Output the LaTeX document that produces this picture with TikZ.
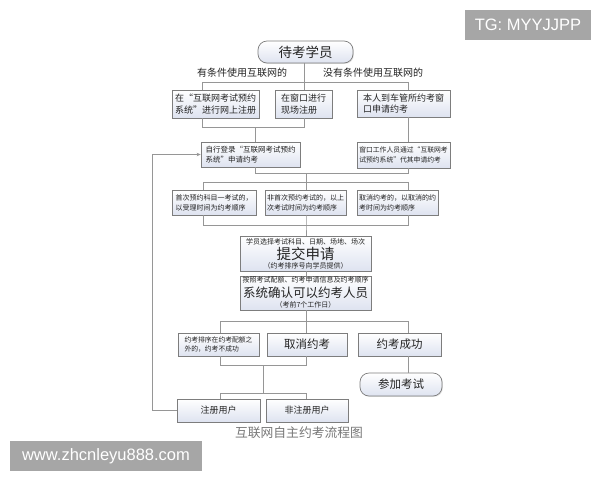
\documentclass[tikz,border=0pt]{standalone}
\usepackage{fontspec}
\setmainfont{Noto Sans CJK SC}
\newfontfamily\wmfont{Liberation Sans}
\usetikzlibrary{shadows,arrows.meta}
\definecolor{lncol}{RGB}{150,150,150}
\definecolor{bdcol}{RGB}{125,125,125}
\definecolor{boxbot}{RGB}{222,227,240}
\definecolor{txt}{RGB}{35,35,35}
\definecolor{capcol}{RGB}{120,120,120}
\definecolor{wmgray}{RGB}{166,166,166}
\newcommand{\fs}[2]{\fontsize{#1pt}{#2pt}\selectfont}
\tikzset{
  ln/.style={draw=lncol, line width=0.9pt},
  bx/.style={draw=bdcol, line width=0.7pt, top color=white, bottom color=boxbot,
    inner sep=0pt, align=left, text=txt,
    drop shadow={shadow xshift=0.9pt, shadow yshift=-0.9pt, opacity=0.22}},
  rbx/.style={bx, rounded corners=9pt, align=center},
  sz/.style 2 args={minimum width=#1pt, minimum height=#2pt},
  lbl/.style={inner sep=0pt, text=txt},
  wm/.style={fill=wmgray, text=white, inner sep=0pt, font=\wmfont\fs{16.5}{18}}
}
\begin{document}
\begin{tikzpicture}[x=1pt,y=-1pt]
\useasboundingbox (0,0) rectangle (600,480);
\fill[white] (0,0) rectangle (600,480);

% nodes
\node[rbx, sz={95}{22}, font=\fs{13.5}{15}] (top) at (305.5,52) {待考学员};
\node[lbl, font=\fs{10}{12}] (l1) at (242,73) {有条件使用互联网的};
\node[lbl, font=\fs{10}{12}] (l2) at (373,73) {没有条件使用互联网的};

\node[bx, sz={87}{28}, font=\fs{9}{11.5}] (A) at (215.5,104) {在“互联网考试预约\\系统”进行网上注册};
\node[bx, sz={57}{28}, font=\fs{9}{11.5}] (B) at (303.5,104) {在窗口进行\\现场注册};
\node[bx, sz={93}{27}, font=\fs{9}{11.5}] (C) at (403.5,103.5) {本人到车管所约考窗\\口申请约考};

\node[bx, sz={99}{25}, font=\fs{7.5}{10}] (D) at (250.5,154.5) {自行登录“互联网考试预约\\系统”申请约考};
\node[bx, sz={93}{26}, font=\fs{6.8}{9.5}] (E) at (403.5,155) {窗口工作人员通过“互联网考\\试预约系统”代其申请约考};

\node[bx, sz={84}{25}, font=\fs{7}{10}] (F) at (214,202.5) {首次预约科目一考试的，\\以受理时间为约考顺序};
\node[bx, sz={81}{25}, font=\fs{7}{10}] (G) at (305.5,202.5) {非首次预约考试的，以上\\次考试时间为约考顺序};
\node[bx, sz={81}{25}, font=\fs{7}{10}] (H) at (397.5,202.5) {取消约考的，以取消的约\\考时间为约考顺序};

\node[bx, sz={131}{35}] (I) at (305.5,253.5) {};
\node[lbl, font=\fs{7}{8}] (I1) at (305.5,241.5) {学员选择考试科目、日期、场地、场次};
\node[lbl, font=\fs{14.5}{16}] (I2) at (305.5,254) {提交申请};
\node[lbl, font=\fs{7}{8}] (I3) at (305.5,265.5) {（约考排序号向学员提供）};

\node[bx, sz={131}{34}] (J) at (305.5,293) {};
\node[lbl, font=\fs{7}{8}] (J1) at (305.5,280) {按照考试配额、约考申请信息及约考顺序};
\node[lbl, font=\fs{12.5}{14}] (J2) at (305.5,293) {系统确认可以约考人员};
\node[lbl, font=\fs{7}{8}] (J3) at (305.5,305) {（考前7个工作日）};

\node[bx, sz={81}{23}, font=\fs{6.8}{9.5}] (K) at (218.5,344.5) {约考排序在约考配额之\\外的，约考不成功};
\node[bx, sz={80}{23}, align=center, font=\fs{11.5}{13}] (L) at (307,344.5) {取消约考};
\node[bx, sz={83}{23}, align=center, font=\fs{11.5}{13}] (M) at (399.5,344.5) {约考成功};
\node[rbx, sz={82}{23}, font=\fs{11.5}{13}] (P) at (401,384.5) {参加考试};

\node[bx, sz={83}{23}, align=center, font=\fs{9}{11}] (N) at (218.5,410.5) {注册用户};
\node[bx, sz={82}{23}, align=center, font=\fs{9}{11}] (O) at (307,410.5) {非注册用户};

\node[lbl, text=capcol, font=\fs{12.8}{14}] (cap) at (299,433) {互联网自主约考流程图};

% connectors
\draw[ln] (top.south -| 304,0) -- (304,82);
\draw[ln] (A.north -| 202,0) -- (202,82) -- (408,82) -- (C.north -| 408,0);
\draw[ln] (304,82) -- (B.north -| 304,0);

\draw[ln] (A.south -| 202,0) -- (202,127) -- (304,127) -- (B.south -| 304,0);
\draw[ln] (255,127) -- (D.north -| 255,0);
\draw[ln] (C.south -| 408,0) -- (E.north -| 408,0);

\draw[ln] (D.south -| 255,0) -- (255,173) -- (408,173) -- (E.south -| 408,0);
\draw[ln] (306,173) -- (306,182);
\draw[ln] (F.north -| 203,0) -- (203,182) -- (408,182) -- (H.north -| 408,0);
\draw[ln] (306,182) -- (G.north -| 306,0);

\draw[ln] (F.south -| 203,0) -- (203,225) -- (408,225) -- (H.south -| 408,0);
\draw[ln] (G.south -| 306,0) -- (306,225) -- (I.north -| 306,0);
\draw[ln] (I.south -| 306,0) -- (J.north -| 306,0);

\draw[ln] (J.south -| 306,0) -- (306,321);
\draw[ln] (K.north -| 220,0) -- (220,321) -- (408,321) -- (M.north -| 408,0);
\draw[ln] (306,321) -- (L.north -| 306,0);

\draw[ln] (K.south -| 220,0) -- (220,365) -- (306,365) -- (L.south -| 306,0);
\draw[ln] (263,365) -- (263,393);
\draw[ln] (N.north -| 220,0) -- (220,393) -- (306,393) -- (O.north -| 306,0);
\draw[ln] (M.south -| 408,0) -- (P.north -| 408,0);

\draw[ln, -{Stealth[length=4pt,width=3.5pt]}] (N.west) -- (152,410.5) -- (152,154.5) -- (D.west);

% watermarks
\node[wm, minimum width=126pt, minimum height=30pt] (tg) at (528,25) {TG: MYYJJPP};
\node[wm, minimum width=192pt, minimum height=30pt] (www) at (106,456) {www.zhcnleyu888.com};
\end{tikzpicture}
\end{document}
